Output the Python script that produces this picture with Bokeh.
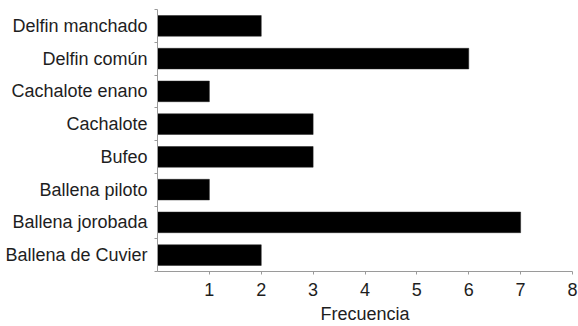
from bokeh.plotting import figure
from bokeh.models import FixedTicker, ColumnDataSource
from bokeh.embed import file_html
from bokeh.resources import INLINE

# Data (bottom to top)
species = ["Ballena de Cuvier", "Ballena jorobada", "Ballena piloto", "Bufeo",
           "Cachalote", "Cachalote enano", "Delfin común", "Delfin manchado"]
frecuencia = [2, 7, 1, 3, 3, 1, 6, 2]
x_ticks = [1, 2, 3, 4, 5, 6, 7, 8]

pos = [i + 0.5 for i in range(len(species))]
src = ColumnDataSource(dict(y=pos, right=frecuencia))

FONT = "Liberation Sans"
TXT = "#1e1e1e"
AX = "#9a9a9a"

p = figure(width=578, height=326, x_range=(0, 8), y_range=(0, 8),
           output_backend="svg", toolbar_location=None,
           min_border_left=157, min_border_right=6, min_border_top=9,
           min_border_bottom=51)
p.outline_line_color = None
p.grid.grid_line_color = None
p.background_fill_color = "white"

p.hbar(y="y", left=0, right="right", height=0.63, source=src,
       fill_color="black", line_color="#222222", line_width=0.5)

# x axis
xa = p.xaxis[0]
xa.ticker = FixedTicker(ticks=x_ticks, minor_ticks=[])
xa.axis_line_color = AX
xa.major_tick_line_color = AX
xa.major_tick_out = 3
xa.major_tick_in = 0
xa.minor_tick_out = 0
xa.minor_tick_in = 0
xa.major_label_text_font = FONT
xa.major_label_text_font_size = "18px"
xa.major_label_text_color = TXT
xa.major_label_standoff = 8
xa.axis_label = "Frecuencia"
xa.axis_label_text_font = FONT
xa.axis_label_text_font_size = "18px"
xa.axis_label_text_font_style = "normal"
xa.axis_label_text_color = TXT
xa.axis_label_standoff = 5

# y axis: labels at centres, ticks at category boundaries
ya = p.yaxis[0]
ya.ticker = FixedTicker(ticks=pos, minor_ticks=list(range(len(species) + 1)))
ya.major_label_overrides = {pos[i]: species[i] for i in range(len(species))}
ya.axis_line_color = AX
ya.major_tick_line_color = None
ya.major_tick_out = 0
ya.major_tick_in = 0
ya.minor_tick_line_color = AX
ya.minor_tick_out = 3
ya.minor_tick_in = 0
ya.major_label_text_font = FONT
ya.major_label_text_font_size = "18px"
ya.major_label_text_color = TXT
ya.major_label_standoff = 7

open("out.html", "w").write(file_html(p, INLINE))
